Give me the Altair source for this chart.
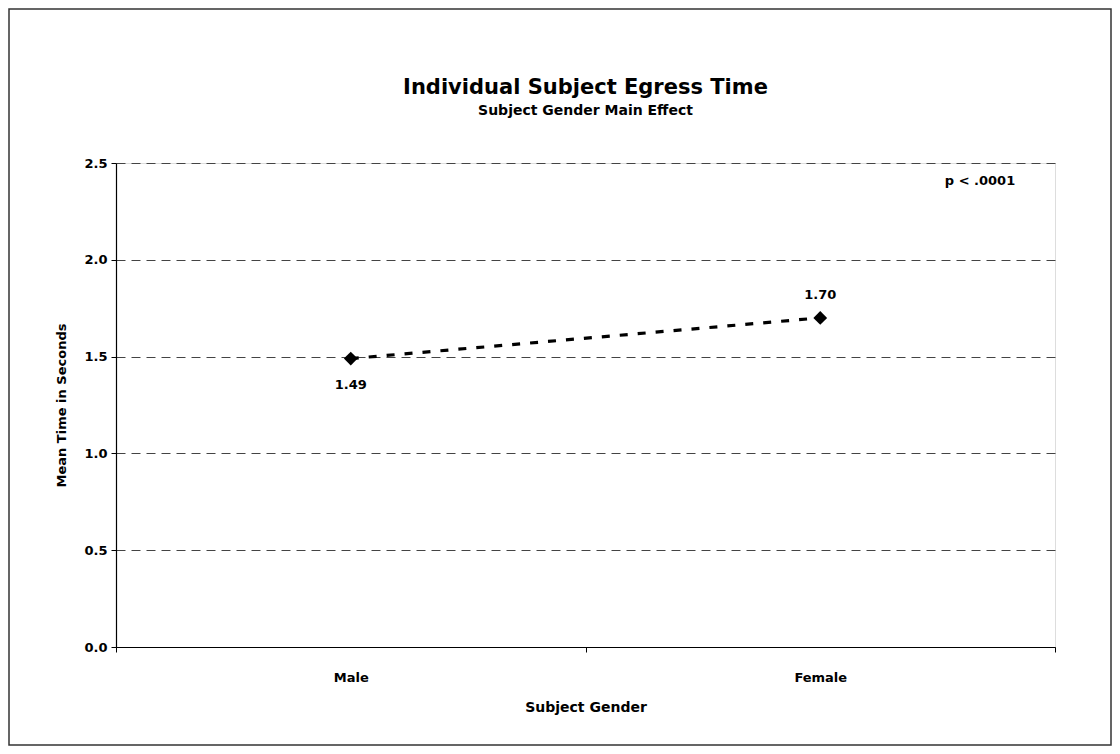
import altair as alt
import pandas as pd

# ---- data ----
genders = ["Male", "Female"]
mean_time = [1.49, 1.70]
value_labels = ["1.49", "1.70"]
label_side = ["below", "above"]
y_ticks = [0.0, 0.5, 1.0, 1.5, 2.0, 2.5]

title_text = ["Individual Subject Egress Time"]
subtitle_text = ["Subject Gender Main Effect"]
x_title = "Subject Gender"
y_title = "Mean Time in Seconds"
p_note = ["p < .0001"]

df = pd.DataFrame({"gender": genders, "time": mean_time,
                   "label": value_labels, "side": label_side})

FONT = "DejaVu Sans"
W, H = 939, 484

x_enc = alt.X(
    "gender:N", sort=genders, title=x_title,
    scale=alt.Scale(type="band", paddingInner=0, paddingOuter=0),
    axis=alt.Axis(labelAngle=0, tickBand="extent", tickSize=5, tickColor="black",
                  domainColor="black", domainWidth=1.2, labelPadding=19,
                  labelFont=FONT, labelFontSize=13, labelFontWeight="bold",
                  labelColor="black", titleFont=FONT, titleFontSize=14,
                  titleFontWeight="bold", titleColor="black", titlePadding=16,
                  grid=False),
)
y_enc = alt.Y(
    "time:Q", title=y_title,
    scale=alt.Scale(domain=[0, 2.5], nice=False, zero=True),
    axis=alt.Axis(values=y_ticks, format=".1f", tickSize=5, tickColor="black",
                  domainColor="black", domainWidth=1.2, labelPadding=4,
                  labelFont=FONT, labelFontSize=13, labelFontWeight="bold",
                  labelColor="black", titleFont=FONT, titleFontSize=13,
                  titleFontWeight="bold", titleColor="black", titlePadding=15,
                  grid=True, gridColor="#444444", gridDash=[9, 6], gridWidth=1),
)

base = alt.Chart(df).encode(x=x_enc, y=y_enc)

line = base.mark_line(color="black", strokeWidth=3.2, strokeDash=[8, 10])
pts = base.mark_point(shape="diamond", filled=True, color="black",
                      size=190, opacity=1)
lab_below = base.transform_filter("datum.side == 'below'").mark_text(
    dy=26, font=FONT, fontSize=13, fontWeight="bold", color="black"
).encode(text="label:N")
lab_above = base.transform_filter("datum.side == 'above'").mark_text(
    dy=-23, font=FONT, fontSize=13, fontWeight="bold", color="black"
).encode(text="label:N")

note = alt.Chart(pd.DataFrame({"t": p_note})).mark_text(
    font=FONT, fontSize=13, fontWeight="bold", color="black"
).encode(x=alt.value(864), y=alt.value(18), text="t:N")

title_mark = alt.Chart(pd.DataFrame({"t": title_text})).mark_text(
    font=FONT, fontSize=21, fontWeight="bold", color="black", baseline="middle"
).encode(x=alt.value(W / 2), y=alt.value(-75), text="t:N")

subtitle_mark = alt.Chart(pd.DataFrame({"t": subtitle_text})).mark_text(
    font=FONT, fontSize=14, fontWeight="bold", color="black", baseline="middle"
).encode(x=alt.value(W / 2), y=alt.value(-52), text="t:N")

border = alt.Chart(pd.DataFrame({"t": p_note})).mark_rect(
    fill=None, stroke="#333333", strokeWidth=1.5
).encode(x=alt.value(-107), x2=alt.value(995), y=alt.value(-154), y2=alt.value(582))

chart = alt.layer(border, line, pts, lab_below, lab_above, note,
                  title_mark, subtitle_mark).properties(
    width=W, height=H,
    autosize=alt.AutoSizeParams(type="none"),
    padding={"left": 108, "top": 155, "right": 57, "bottom": 99},
).configure_view(stroke=None).configure(background="white")

chart.save("out.html", embed_options={"renderer": "svg", "actions": False})
